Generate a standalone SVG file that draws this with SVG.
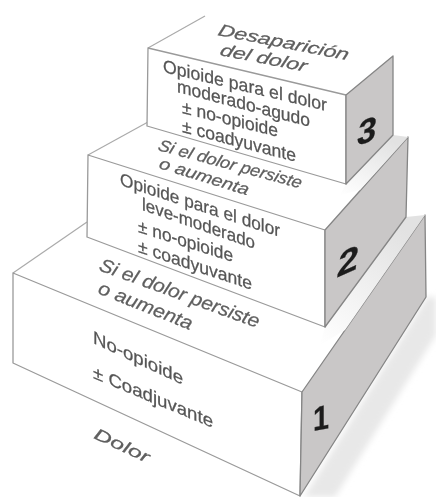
<svg xmlns="http://www.w3.org/2000/svg" width="436" height="497" viewBox="0 0 436 497">
<style>
.face{fill:#fff;stroke:#9a9a9a;stroke-width:1.3;stroke-linejoin:round}
.side{fill:#c9c7c7;stroke:#858585;stroke-width:1.3;stroke-linejoin:round}
.edge{fill:none;stroke:#aaa;stroke-width:1.2}
text{font-family:"Liberation Sans",Arial,sans-serif;fill:#555;font-size:18px;stroke:#555;stroke-width:.25}
.it{font-style:italic;fill:#606060}
.num{fill:#1c1c1c;stroke:#1c1c1c;font-size:34px;font-weight:bold}
.l{font-size:17px}
.xl{font-size:20px}
</style>
<defs>
<filter id="b" x="-10%" y="-10%" width="120%" height="120%"><feGaussianBlur stdDeviation="0.55"/></filter>
<filter id="s" x="-20%" y="-20%" width="140%" height="140%"><feGaussianBlur stdDeviation="3"/></filter>
<linearGradient id="g" x1="0" y1="1" x2="0.6" y2="0"><stop offset="0" stop-color="#fff"/><stop offset="1" stop-color="#e2e2e2"/></linearGradient>
</defs>
<rect width="436" height="497" fill="#fff"/>
<polygon points="427,297 436,297 436,335 335,497 304,497" fill="#e8e8e8" filter="url(#s)"/>
<g id="connectors" filter="url(#b)">
<polyline class="edge" points="13,273 87,222"/>
<polyline class="edge" points="88,155 148,122"/>
<polyline class="edge" points="148,48 205,16"/>
</g>
<g id="step1" filter="url(#b)">
<polygon class="face" points="13,273 302,392 300,496 13,363"/>
<polygon class="side" points="302,392 425,215 426,297 300,496"/>
<polygon points="325,327 406,217 425,215 345,330 320,345" fill="url(#g)"/>
<text class="it xl" transform="translate(98,270) skewY(20) skewX(-18)" textLength="159" lengthAdjust="spacingAndGlyphs">Si el dolor persiste</text>
<text class="it xl" transform="translate(97,293) skewY(21.7) skewX(-18)" textLength="93" lengthAdjust="spacingAndGlyphs">o aumenta</text>
<text transform="translate(93,343) skewY(25)" textLength="90" lengthAdjust="spacingAndGlyphs">No-opioide</text>
<text transform="translate(93,378) skewY(22.6)" textLength="120" lengthAdjust="spacingAndGlyphs">± Coadjuvante</text>
<text class="it" transform="translate(93,438) skewY(25) skewX(-18)" textLength="54" lengthAdjust="spacingAndGlyphs">Dolor</text>
<text class="num" transform="translate(313,431) skewY(-10)" textLength="16" lengthAdjust="spacingAndGlyphs">1</text>
</g>
<g id="step2" filter="url(#b)">
<polygon class="face" points="88,155 325,230 325,327 87,237"/>
<polygon class="side" points="325,230 408,137 406,217 325,327"/>
<polygon points="346,184 393,135 408,137 360,190 340,195" fill="url(#g)"/>
<text class="it l" transform="translate(157,150) skewY(15) skewX(-18)" textLength="143" lengthAdjust="spacingAndGlyphs">Si el dolor persiste</text>
<text class="it l" transform="translate(158,168) skewY(17) skewX(-18)" textLength="89" lengthAdjust="spacingAndGlyphs">o aumenta</text>
<text transform="translate(120,185) skewY(18)" textLength="160" lengthAdjust="spacingAndGlyphs">Opioide para el dolor</text>
<text transform="translate(142,210) skewY(19)" textLength="113" lengthAdjust="spacingAndGlyphs">leve-moderado</text>
<text transform="translate(138,232) skewY(17.5)" textLength="95" lengthAdjust="spacingAndGlyphs">± no-opioide</text>
<text transform="translate(138,252) skewY(18.4)" textLength="114" lengthAdjust="spacingAndGlyphs">± coadyuvante</text>
<text class="num" transform="translate(336,278) skewY(-24) skewX(-8)" textLength="21" lengthAdjust="spacingAndGlyphs">2</text>
</g>
<g id="step3" filter="url(#b)">
<polygon class="face" points="148,48 346,95 346,184 147,126"/>
<polygon class="side" points="346,95 393,56 393,135 346,184"/>
<text class="it l" transform="translate(217,35) skewY(11) skewX(-18)" textLength="130" lengthAdjust="spacingAndGlyphs">Desaparición</text>
<text class="it l" transform="translate(219,55) skewY(11) skewX(-18)" textLength="86" lengthAdjust="spacingAndGlyphs">del dolor</text>
<text transform="translate(163,72) skewY(13.4)" textLength="164" lengthAdjust="spacingAndGlyphs">Opioide para el dolor</text>
<text transform="translate(177,92) skewY(14.7)" textLength="133" lengthAdjust="spacingAndGlyphs">moderado-agudo</text>
<text transform="translate(182,113) skewY(14)" textLength="96" lengthAdjust="spacingAndGlyphs">± no-opioide</text>
<text transform="translate(182,132) skewY(14.7)" textLength="114" lengthAdjust="spacingAndGlyphs">± coadyuvante</text>
<text class="num" transform="translate(356,146) skewY(-18) skewX(-8)" textLength="19" lengthAdjust="spacingAndGlyphs">3</text>
</g>
</svg>
